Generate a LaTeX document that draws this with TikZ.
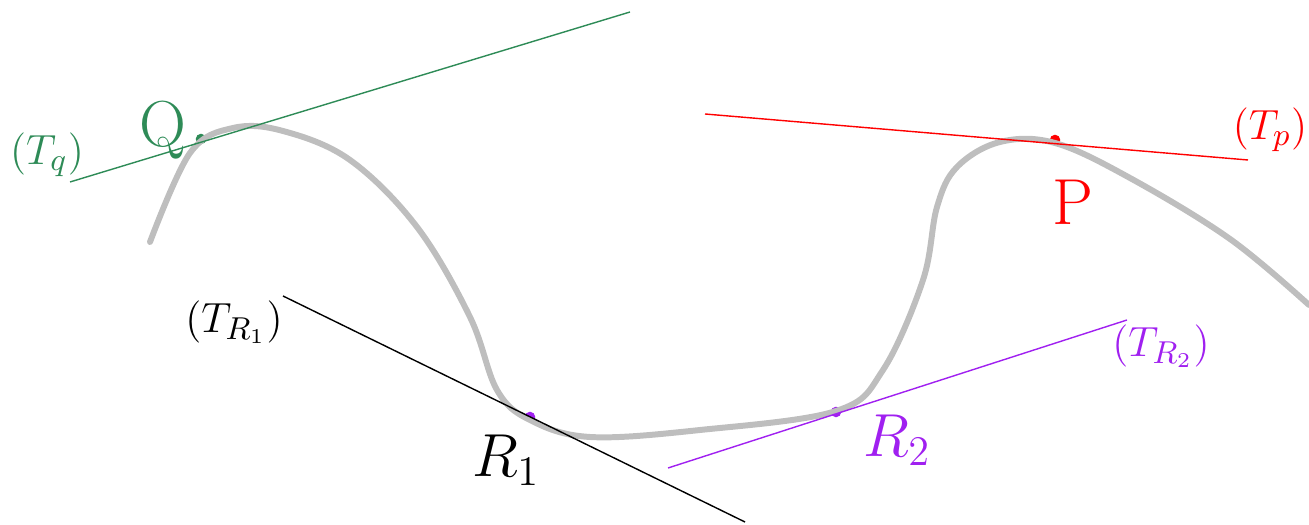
\documentclass[tikz,border=0pt]{standalone}
\usepackage{amsmath}
\definecolor{qgreen}{RGB}{46,139,87}
\definecolor{rpurple}{RGB}{160,32,240}
\definecolor{curvegray}{RGB}{190,190,190}
\begin{document}
\begin{tikzpicture}[x=0.01cm,y=-0.01cm,
  curve/.style={draw=curvegray,line width=1.7pt,line cap=round,line join=round},
  tangent/.style={line width=0.4pt},
  dotpt/.style={circle,fill,inner sep=0pt,minimum size=3pt},
  biglabel/.style={font=\fontsize{18.5}{22}\selectfont,inner sep=0pt},
  tlabel/.style={font=\fontsize{13}{16}\selectfont,inner sep=0pt}]
\useasboundingbox (0,0) rectangle (1309,525);
% points (under the curve)
\node[dotpt,qgreen] (q) at (201,139) {};
\node[dotpt,red] (p) at (1055,140) {};
\node[dotpt,rpurple] (r1) at (530,417) {};
\node[dotpt,rpurple] (r2) at (836,412) {};
% curve
\draw[curve] plot[smooth,tension=0.6] coordinates {
 (150,242) (190,153) (233,128) (283,131) (350,160) (417,227) (470,317)
 (497,390) (530,420) (590,437) (700,430) (836,411) (883,370) (923,280)
 (937,207) (957,167) (1000,142) (1055,143) (1130,178) (1230,239) (1309,305)};
% tangent lines
\coordinate (tq1) at (70,182);  \coordinate (tq2) at (630,12);
\coordinate (tp1) at (705,114); \coordinate (tp2) at (1248,160);
\coordinate (tr1a) at (283,296); \coordinate (tr1b) at (745,522);
\coordinate (tr2a) at (668,468); \coordinate (tr2b) at (1127,320);
\draw[tangent,qgreen] (tq1) -- (tq2);
\draw[tangent,red] (tp1) -- (tp2);
\draw[tangent,black] (tr1a) -- (tr1b);
\draw[tangent,rpurple] (tr2a) -- (tr2b);
% labels
\node[biglabel,qgreen] (lq) at (163,130) {Q};
\node[biglabel,red] (lp) at (1073,202) {P};
\node[biglabel,black] (lr1) at (506,460) {$R_1$};
\node[biglabel,rpurple] (lr2) at (897,440) {$R_2$};
\node[tlabel,qgreen] (ltq) at (47,155) {$(T_q)$};
\node[tlabel,red] (ltp) at (1270,130) {$(T_p)$};
\node[tlabel,black] (ltr1) at (234,322) {$(T_{R_1})$};
\node[tlabel,rpurple] (ltr2) at (1161,346) {$(T_{R_2})$};
\end{tikzpicture}
\end{document}
